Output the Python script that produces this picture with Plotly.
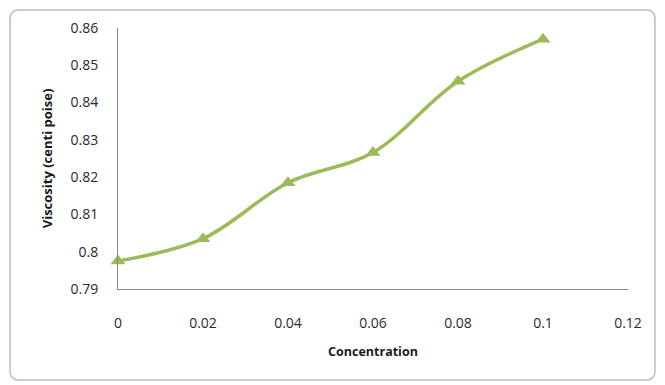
import plotly.graph_objects as go

# Viscosity measured at each concentration
concentration = [0, 0.02, 0.04, 0.06, 0.08, 0.1]
viscosity = [0.7975, 0.8035, 0.8185, 0.8266, 0.8457, 0.857]

x_ticks = [0, 0.02, 0.04, 0.06, 0.08, 0.1, 0.12]
x_tick_text = ["0", "0.02", "0.04", "0.06", "0.08", "0.1", "0.12"]
y_ticks = [0.79, 0.80, 0.81, 0.82, 0.83, 0.84, 0.85, 0.86]
y_tick_text = ["0.79", "0.8", "0.81", "0.82", "0.83", "0.84", "0.85", "0.86"]

W, H = 665, 385
L, R, T, B = 118, 37, 28, 96
pw, ph = W - L - R, H - T - B

GREEN = "#9BBB59"
AXIS = "#8a8a8a"
FONT = "Open Sans, Liberation Sans, sans-serif"


def px(x):
    return (x - L) / pw


def py(y):
    return (H - B - y) / ph


def rounded_rect(x0, y0, x1, y1, r):
    pts = [
        f"M {px(x0 + r)},{py(y0)}",
        f"L {px(x1 - r)},{py(y0)}",
        f"Q {px(x1)},{py(y0)} {px(x1)},{py(y0 + r)}",
        f"L {px(x1)},{py(y1 - r)}",
        f"Q {px(x1)},{py(y1)} {px(x1 - r)},{py(y1)}",
        f"L {px(x0 + r)},{py(y1)}",
        f"Q {px(x0)},{py(y1)} {px(x0)},{py(y1 - r)}",
        f"L {px(x0)},{py(y0 + r)}",
        f"Q {px(x0)},{py(y0)} {px(x0 + r)},{py(y0)}",
        "Z",
    ]
    return " ".join(pts)


fig = go.Figure()
fig.add_trace(go.Scatter(
    x=concentration,
    y=viscosity,
    mode="lines+markers",
    line=dict(color=GREEN, width=3.5, shape="spline", smoothing=1.0),
    marker=dict(symbol="triangle-up", size=13, color=GREEN),
    cliponaxis=False,
    showlegend=False,
))

fig.update_layout(
    width=W,
    height=H,
    margin=dict(l=L, r=R, t=T, b=B),
    paper_bgcolor="white",
    plot_bgcolor="white",
    font=dict(family=FONT, size=14, color="#2a2a2a"),
    xaxis=dict(
        range=[0, 0.12],
        tickvals=x_ticks,
        ticktext=x_tick_text,
        showgrid=False,
        zeroline=False,
        showline=True,
        linecolor=AXIS,
        linewidth=1,
        ticks="",
        ticklabelstandoff=21,
        title=dict(text="<b>Concentration</b>", font=dict(size=12.5, color="#1a1a1a"), standoff=16),
    ),
    yaxis=dict(
        range=[0.79, 0.86],
        tickvals=y_ticks,
        ticktext=y_tick_text,
        showgrid=False,
        zeroline=False,
        showline=True,
        linecolor=AXIS,
        linewidth=1,
        ticks="",
        ticklabelstandoff=16,
        title=dict(text="<b>Viscosity (centi poise)</b>", font=dict(size=13, color="#1a1a1a"), standoff=14),
    ),
    shapes=[
        dict(
            type="path",
            xref="paper",
            yref="paper",
            path=rounded_rect(10, 10, 655, 380, 9),
            line=dict(color="#bcbcbc", width=1.5),
            fillcolor="rgba(0,0,0,0)",
            layer="below",
        )
    ],
)

fig.write_html("out.html")
